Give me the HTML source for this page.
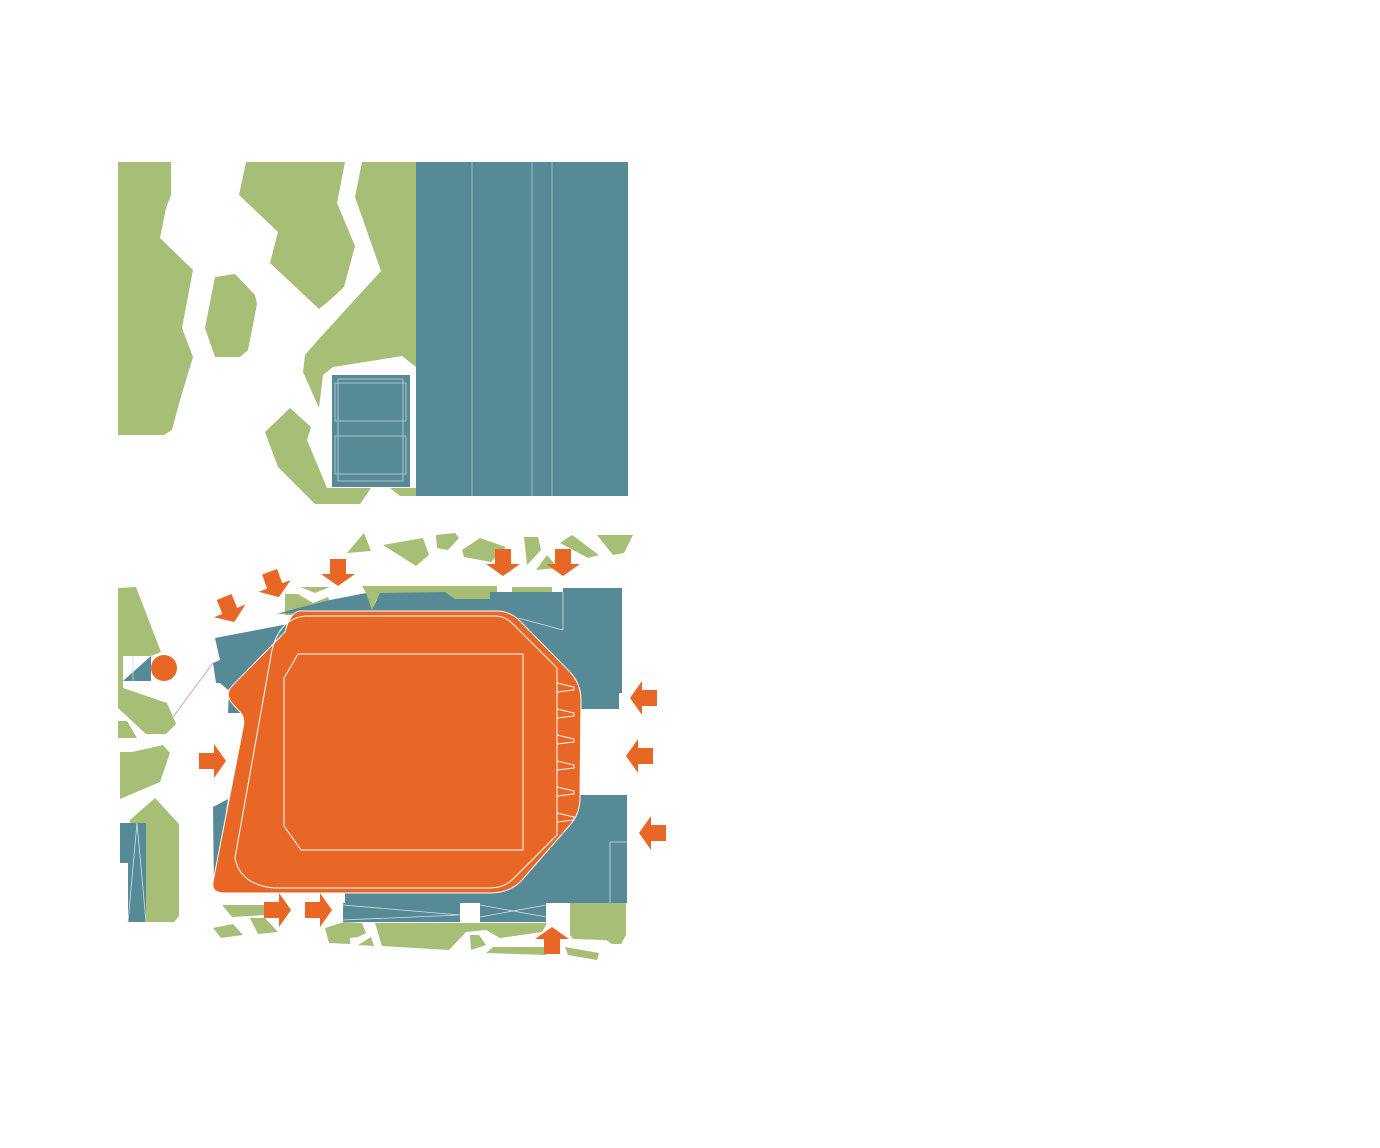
<!DOCTYPE html>
<html><head><style>html,body{margin:0;padding:0;background:#fff;}svg{display:block}</style></head>
<body>
<svg width="1380" height="1148" viewBox="0 0 1380 1148" xmlns="http://www.w3.org/2000/svg">
<defs>
<g id="ar"><path d="M-13,-8 L2,-8 L2,-17 L14,0 L2,17 L2,8 L-13,8 Z" fill="#E96726"/></g>
</defs>
<g fill="#A6BE76">
<polygon points="118,162 171,162 171,195 166,208 160,238 193,270 182,328 193,357 180,400 172,430 164,435 118,435"/>
<polygon points="246,162 345,162 337,203 355,246 344,287 330,300 319,309 270,263 278,232 239,195"/>
<polygon points="362,162 416,162 416,367 402,356 333,367 323,375 319,408 303,372 305,355 318,340 381,271 355,197"/>
<polygon points="215,277 235,274 255,295 257,304 248,350 240,357 215,357 205,328"/>
<polygon points="290,408 311,427 307,440 327,488 371,488 360,504 315,504 278,467 265,432"/>
<polygon points="390,488 416,488 416,496 400,496"/>
</g>
<rect x="416" y="162" width="212" height="334" fill="#578A97"/>
<g stroke="#9fbcc4" stroke-width="1"><line x1="472" y1="162" x2="472" y2="496"/><line x1="532" y1="162" x2="532" y2="496"/><line x1="552" y1="162" x2="552" y2="496"/></g>
<rect x="332" y="375" width="78" height="112" fill="#578A97"/>
<g fill="none" stroke="#a8c3ca" stroke-width="1"><rect x="338" y="379" width="65" height="102"/><rect x="335" y="383" width="71" height="38"/><rect x="335" y="436" width="71" height="38"/></g>

<g fill="#A6BE76">
<polygon points="347,553 364,533 371,551"/>
<polygon points="383,545 423,538 429,555 416,566"/>
<polygon points="436,535 455,533 459,538 448,550 437,548"/>
<polygon points="462,550 480,538 506,547 491,562 464,557"/>
<polygon points="524,537 538,537 541,550 527,565"/>
<polygon points="536,570 547,555 558,568"/>
<polygon points="560,543 572,535 599,555 588,558"/>
<polygon points="597,535 633,535 624,553 613,555"/>
<polygon points="118,588 136,587 161,652 151,656 123,656 123,688 167,703 176,724 166,734 146,734 118,708"/>
<polygon points="118,721 127,721 137,738 118,738"/>
<polygon points="120,752 132,752 163,745 170,753 160,782 120,799"/>
<polygon points="130,820 155,798 179,824 179,916 174,922 146,922 146,823 130,823"/>
<polygon points="222,905 265,905 265,915 232,917"/>
<polygon points="213,928 233,924 243,935 221,938"/>
<polygon points="250,918 265,918 278,932 258,934"/>
<polygon points="325,928 344,922 362,923 366,933 358,937 350,938 350,944 329,943"/>
<polygon points="358,945 371,937 374,946"/>
<polygon points="375,923 547,923 542,932 500,938 486,930 466,932 449,950 382,946"/>
<polygon points="470,935 479,935 486,945 471,950"/>
<polygon points="486,953 493,947 545,947 546,955"/>
<polygon points="565,947 599,953 597,960 568,955"/>
<polygon points="570,903 626,903 626,935 621,944 612,944 606,940 573,939 570,935"/>
<polygon points="362,586 497,586 497,600 455,600 446,593 383,593 376,600 372,612 366,593"/>
<rect x="512" y="587" width="40" height="12"/>
<polygon points="285,594 298,594 313,603 328,597 333,608 300,615 285,615"/>
<polygon points="300,587 330,587 315,593"/>
</g>
<g fill="#578A97">
<polygon points="123,681 151,656 151,681"/>
<rect x="120" y="823" width="26" height="40"/>
<rect x="128" y="823" width="18" height="99"/>
<polygon points="277,614 298,608 330,600 366,593 372,610 380,593 445,592 455,599 490,599 490,592 563,592 563,588 622,588 622,693 575,693 575,660 540,620 510,612 300,613"/>
<rect x="490" y="600" width="90" height="100"/>
<rect x="580" y="693" width="39" height="16"/>
<polygon points="215,638 283,625 300,620 260,660 229,690 228,713 240,713 240,700 220,683 216,683 213,663 220,660"/>
<polygon points="213,807 228,799 214,892"/>
<rect x="580" y="795" width="47" height="108"/>
<rect x="500" y="795" width="85" height="100"/>
<rect x="345" y="880" width="282" height="23"/>
<rect x="343" y="903" width="117" height="19"/>
<rect x="480" y="903" width="66" height="19"/>
</g>
<g stroke="#cfe0e4" stroke-width="0.8" fill="none">
<line x1="133" y1="656" x2="133" y2="681"/>
<polyline points="128,922 137,823 146,922"/>
<line x1="610" y1="842" x2="610" y2="903"/><line x1="610" y1="842" x2="627" y2="842"/>
<polyline points="343,905 460,915 343,920"/><polyline points="480,905 546,917"/><polyline points="480,917 546,905"/>
<polyline points="518,618 563,630 563,592"/>
</g>
<line x1="173" y1="717" x2="213" y2="663" stroke="#d58abf" stroke-width="0.8"/>
<circle cx="164" cy="668" r="13" fill="#E96726"/>
<path d="M300 611 L497 611 Q510 611 520 621 L570 672 Q581 684 581 700 L580 800 Q579 815 570 825 L522 880 Q510 893 490 893 L225 893 Q211 893 213 882 L243 728 Q246 716 238 710 L231 702 Q225 693 232 686 L285 632 Q290 612 300 611 Z" fill="#E96726" stroke="#fff" stroke-width="1"/>
<path d="M306 616 L495 616 Q505 616 513 624 L557 668 L557 835 L512 880 Q503 888 490 888 L275 888 Q240 885 235 858 L272 650 Q280 618 306 616 Z" fill="none" stroke="#fff" stroke-width="1"/>
<polygon points="298,654 523,654 523,850 301,850 284,826 284,678" fill="none" stroke="#fff" stroke-width="1"/>
<g fill="none" stroke="#fff" stroke-width="0.9">
<polyline points="557,683 574,687 574,690 557,692"/>
<polyline points="557,709 574,713 574,716 557,718"/>
<polyline points="557,735 574,739 574,742 557,744"/>
<polyline points="557,761 574,765 574,768 557,770"/>
<polyline points="557,787 574,791 574,794 557,796"/>
<polyline points="557,813 574,817 574,820 557,822"/>
</g>
<use href="#ar" transform="translate(229,609) rotate(68)"/>
<use href="#ar" transform="translate(274,584) rotate(70)"/>
<use href="#ar" transform="translate(338,572) rotate(90)"/>
<use href="#ar" transform="translate(503,562) rotate(90)"/>
<use href="#ar" transform="translate(563,562) rotate(90)"/>
<use href="#ar" transform="translate(644,698) rotate(180)"/>
<use href="#ar" transform="translate(640,756) rotate(180)"/>
<use href="#ar" transform="translate(653,833) rotate(180)"/>
<use href="#ar" transform="translate(212,761)"/>
<use href="#ar" transform="translate(277,910)"/>
<use href="#ar" transform="translate(318,910)"/>
<use href="#ar" transform="translate(552,941) rotate(-90)"/>
</svg>
</body></html>
